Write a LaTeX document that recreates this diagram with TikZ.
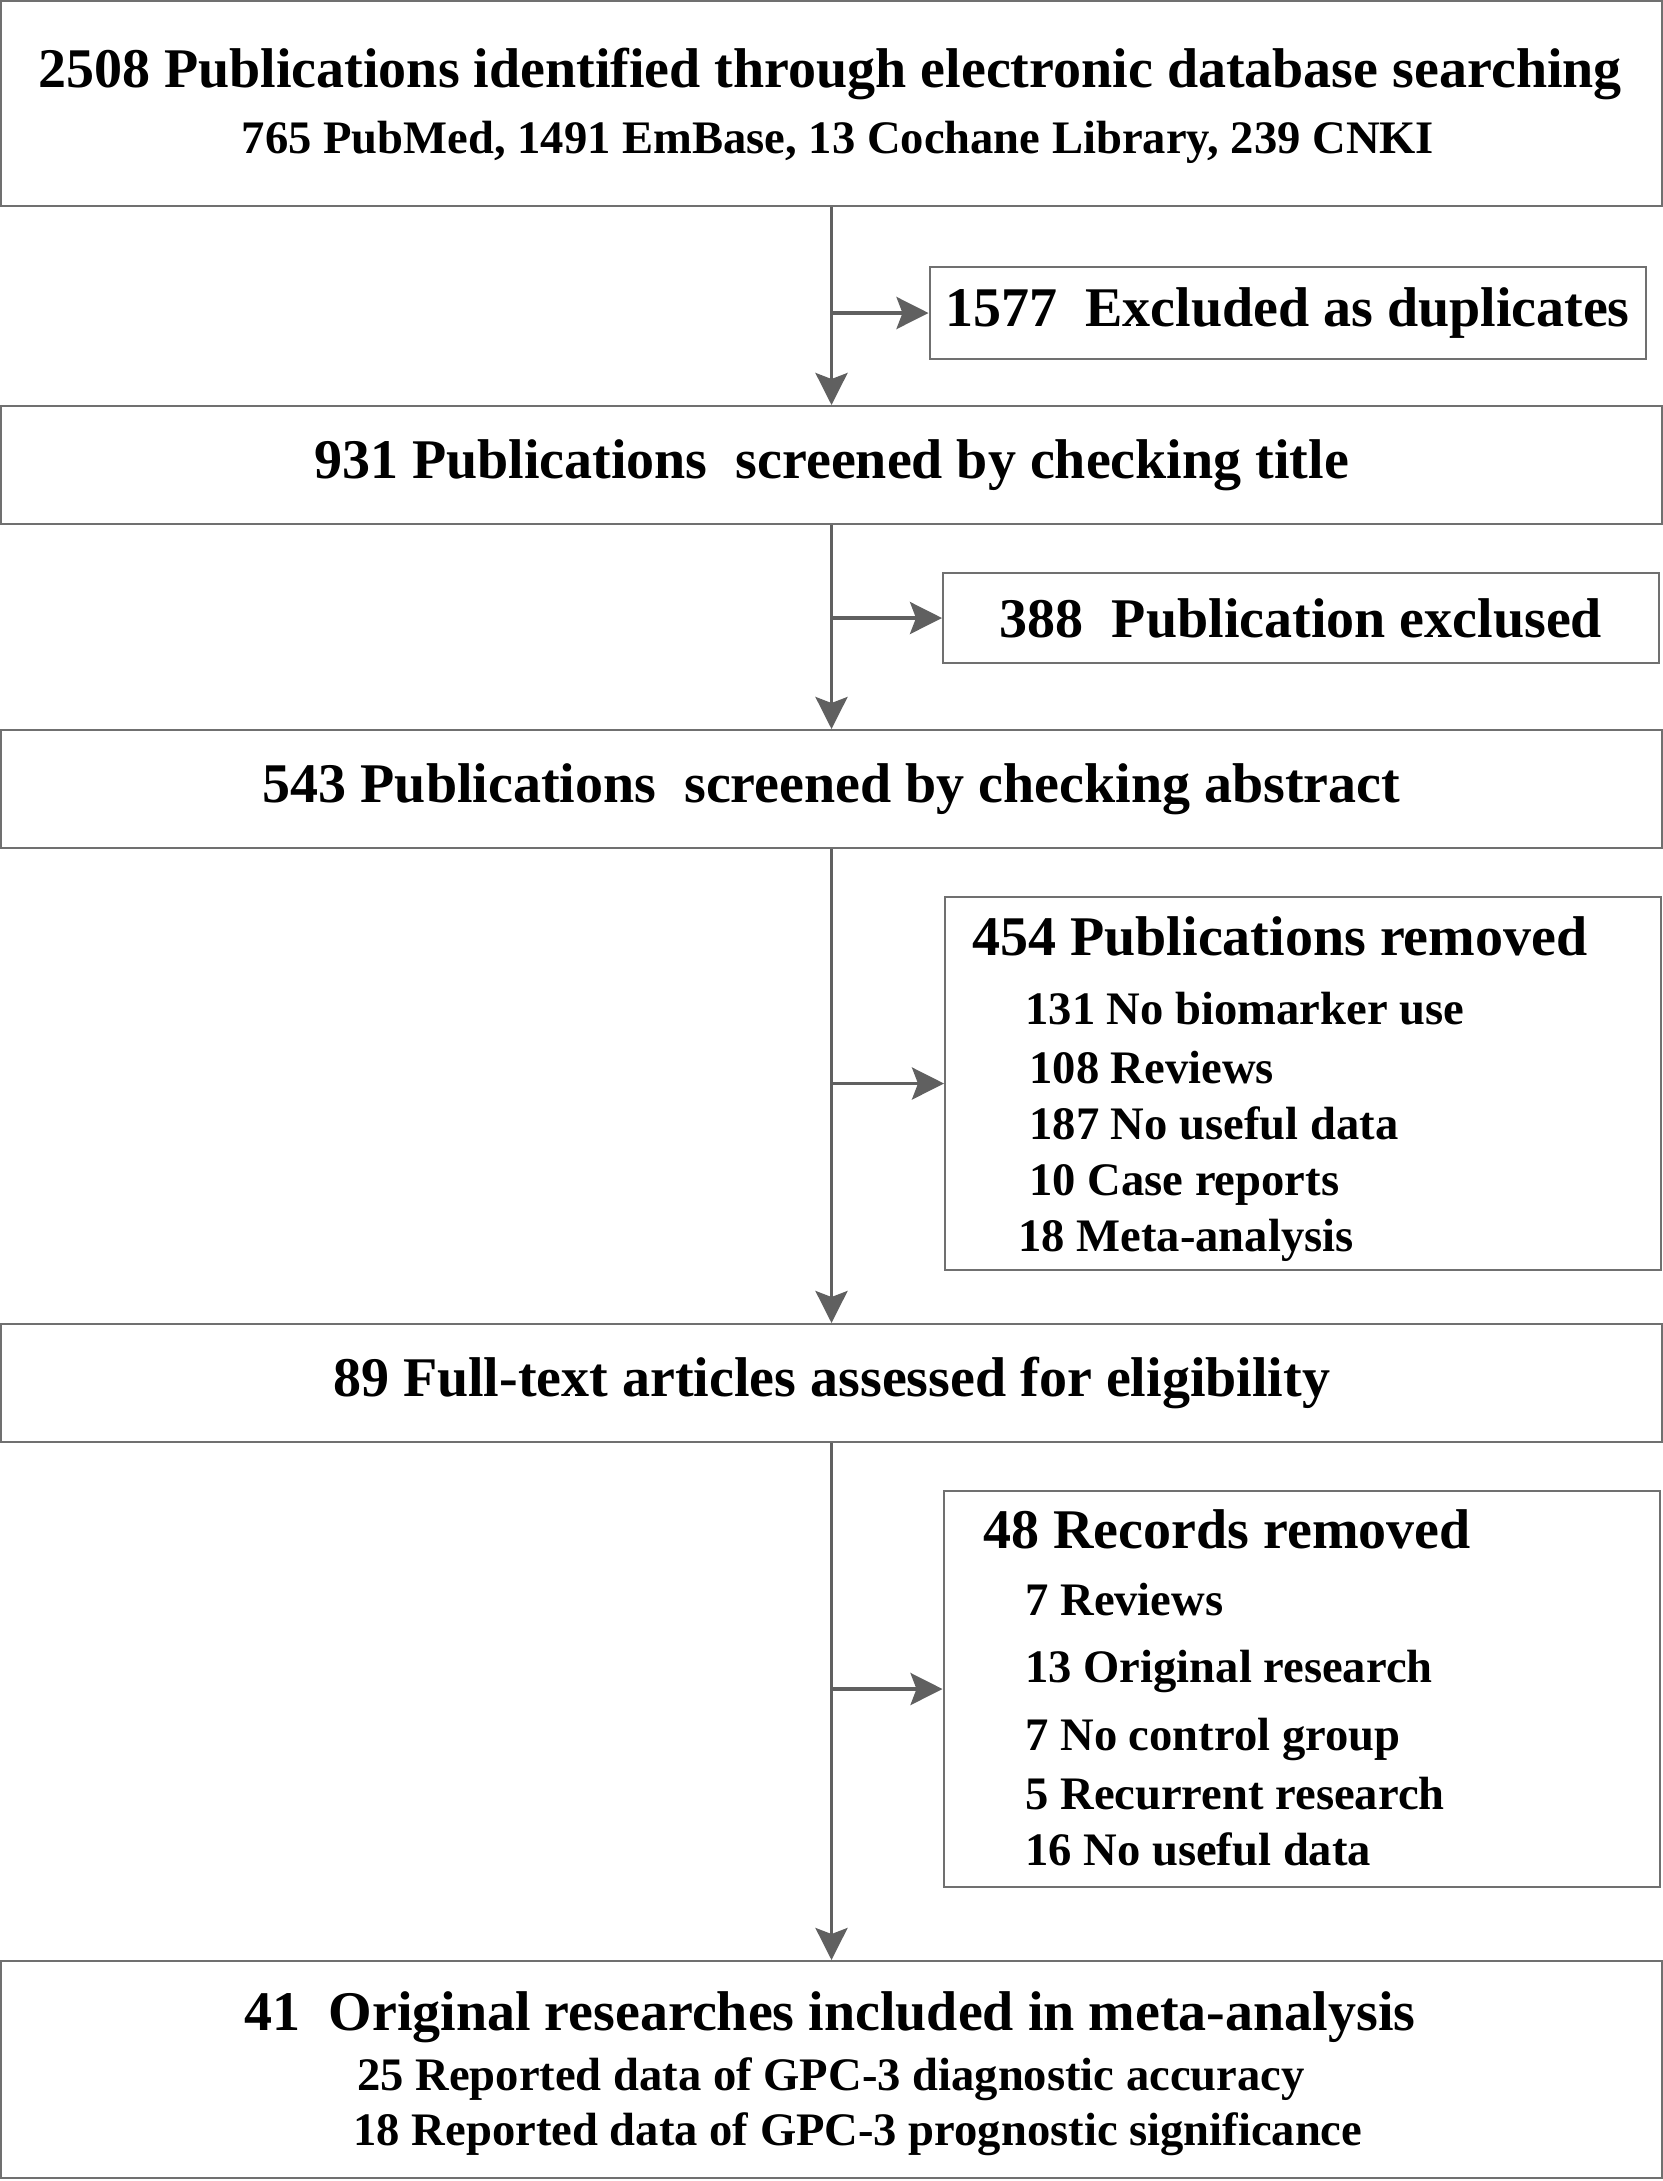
\documentclass[tikz,border=0pt]{standalone}
\usepackage{fontspec}
\setmainfont{Liberation Serif}
\usetikzlibrary{arrows.meta}
\definecolor{linegray}{HTML}{606060}
\definecolor{boxgray}{HTML}{707070}

\begin{document}
\begin{tikzpicture}[x=0.5pt, y=-0.5pt,
    box/.style={draw=boxgray, line width=1pt, inner sep=0pt},
    mainbox/.style={box, minimum width=830.5pt},
    sidebox/.style={box, minimum width=358pt},
    big/.style={font=\fontsize{28}{33}\selectfont\bfseries},
    small/.style={font=\fontsize{23.3}{28}\selectfont\bfseries},
    line/.style={inner sep=0pt},
    flow/.style={draw=linegray, line width=1.75pt, -{Stealth[length=16pt, width=16pt, inset=3pt]}}]

    % cadre
    \useasboundingbox (0,0) rectangle (1663,2181);

    % boites principales
    \node[mainbox, minimum height=102.5pt] (search) at (831.5,103.5) {};
    \node[mainbox, minimum height=59pt, big] (title) at (831.5,465) {931 Publications\ \ screened by checking title};
    \node[mainbox, minimum height=59pt, big] (abstract) at (831.5,789) {543 Publications\ \ screened by checking abstract};
    \node[mainbox, minimum height=59pt, big] (fulltext) at (831.5,1383) {89 Full-text articles assessed for eligibility};
    \node[mainbox, minimum height=108.5pt] (included) at (831.5,2069.5) {};

    % textes des boites principales
    \node[big, line, anchor=base] (searchA) at (830,87.5) {2508 Publications identified through electronic database searching};
    \node[small, line, anchor=base] (searchB) at (838,153.6) {765 PubMed, 1491 EmBase, 13 Cochane Library, 239 CNKI};
    \node[big, line, anchor=base] (inclA) at (830,2030) {41\ \ Original researches included in meta-analysis};
    \node[small, line, anchor=base] (inclB) at (831,2090) {25 Reported data of GPC-3 diagnostic accuracy};
    \node[small, line, anchor=base] (inclC) at (858,2145) {18 Reported data of GPC-3 prognostic significance};

    % exclusions
    \node[sidebox, minimum height=46pt, big] (dup) at (1287.5,313) {1577\ \ Excluded as duplicates};
    \node[sidebox, minimum height=45pt, big] (excl) at (1301,618) {388\ \ Publication exclused};
    \node[sidebox, minimum height=186.5pt] (removed) at (1303,1083.5) {};
    \node[sidebox, minimum height=198pt] (records) at (1301.5,1689) {};

    %% 454
    \node[big, line, anchor=base west] (remA) at (972,955) {454 Publications removed};
    \foreach \x/\y/\t [count=\i] in {1025/1024/131 No biomarker use, 1029/1083/108 Reviews,
        1029/1139/187 No useful data, 1029/1195/10 Case reports, 1018/1251/18 Meta-analysis}
        \node[small, line, anchor=base west] (rem\i) at (\x,\y) {\t};

    %% 48
    \node[big, line, anchor=base west] (recA) at (983,1548) {48 Records removed};
    \foreach \y/\t [count=\i] in {1615/7 Reviews, 1682/13 Original research,
        1750/7 No control group, 1809/5 Recurrent research, 1865/16 No useful data}
        \node[small, line, anchor=base west] (rec\i) at (1025,\y) {\t};

    % fleches
    \draw[flow] (search.south) -- (title.north);
    \draw[flow] (title.south) -- (abstract.north);
    \draw[flow] (abstract.south) -- (fulltext.north);
    \draw[flow] (fulltext.south) -- (included.north);
    \draw[flow] (search.south |- dup.west) -- (dup.west);
    \draw[flow] (title.south |- excl.west) -- (excl.west);
    \draw[flow] (abstract.south |- removed.west) -- (removed.west);
    \draw[flow] (fulltext.south |- records.west) -- (records.west);

\end{tikzpicture}
\end{document}
